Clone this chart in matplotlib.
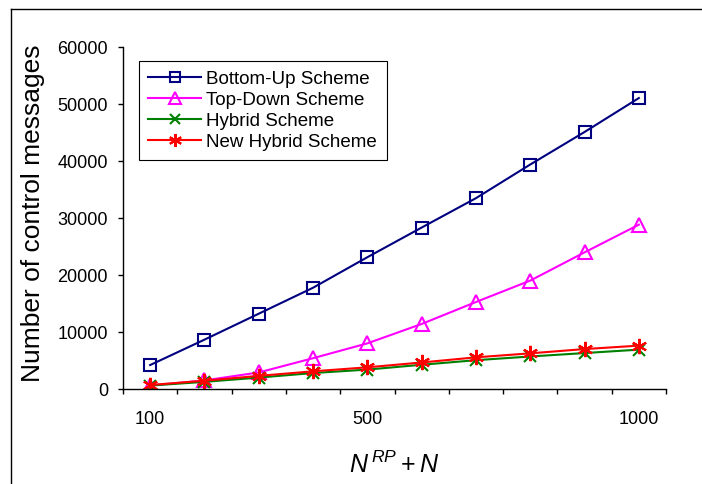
import matplotlib
matplotlib.use("Agg")
import matplotlib.pyplot as plt
from matplotlib.lines import Line2D

plt.rcParams['font.family'] = ['Liberation Sans', 'DejaVu Sans']
plt.rcParams['mathtext.fontset'] = 'custom'
plt.rcParams['mathtext.it'] = 'Liberation Sans:italic'
plt.rcParams['mathtext.rm'] = 'Liberation Sans'

# N^RP + N
nodes = [100, 200, 300, 400, 500, 600, 700, 800, 900, 1000]
tick_labels = ['100', '500', '1000']
tick_label_pos = [100, 500, 1000]

bottom_up = [4200, 8650, 13200, 17750, 23100, 28300, 33450, 39350, 45050, 51000]
top_down = [600, 1500, 2900, 5400, 8000, 11400, 15250, 19000, 23950, 28800]
hybrid = [600, 1250, 2000, 2800, 3400, 4250, 5050, 5700, 6300, 6900]
new_hybrid = [700, 1450, 2300, 3100, 3800, 4650, 5550, 6250, 7000, 7600]

W, H = 702, 485
fig = plt.figure(figsize=(W / 100, H / 100), dpi=100)
ax = fig.add_axes([123 / W, (H - 390) / H, (666 - 123) / W, (390 - 47.7) / H])

ax.plot(nodes, bottom_up, color='#000080', lw=1.5, marker='s', ms=9,
        mfc='none', mec='#000080', mew=1.5, label='Bottom-Up Scheme')
ax.plot(nodes, top_down, color='#ff00ff', lw=1.5, marker='^', ms=10,
        mfc='none', mec='#ff00ff', mew=1.5, label='Top-Down Scheme')
ax.plot(nodes, hybrid, color='#008000', lw=1.5, marker='x', ms=9,
        mec='#008000', mew=1.5, label='Hybrid Scheme')
ax.plot(nodes, new_hybrid, color='#ff0000', lw=1.5, marker=(6, 2, 0), ms=11,
        mec='#ff0000', mew=1.5, label='New Hybrid Scheme')

ax.set_xlim(50, 1050)
ax.set_ylim(0, 60000)
ax.set_yticks(range(0, 60001, 10000))
ax.set_xticks(range(50, 1051, 100))
ax.set_xticklabels([])
ax.set_xticks(tick_label_pos, minor=True)
ax.set_xticklabels(tick_labels, minor=True)
ax.tick_params(axis='x', which='major', direction='out', length=3.8, width=1)
ax.tick_params(axis='x', which='minor', length=0, pad=15, labelsize=13)
ax.tick_params(axis='y', direction='out', length=3.8, width=1, pad=7, labelsize=13)
for s in ['top', 'right']:
    ax.spines[s].set_visible(False)
for s in ['left', 'bottom']:
    ax.spines[s].set_linewidth(1)

leg = ax.legend(loc='upper left', bbox_to_anchor=(139 / W, 1 - 62 / H),
                bbox_transform=fig.transFigure, borderaxespad=0, fancybox=False,
                edgecolor='black', framealpha=1, fontsize=13.5, handlelength=2.8,
                labelspacing=0.2, handletextpad=0.3, borderpad=0.5,
                markerscale=0.85)
leg.get_frame().set_linewidth(0.8)

fig.text(33 / W, 1 - 213 / H, 'Number of control messages', rotation=90,
         ha='center', va='center', fontsize=19)
fig.text(394 / W, 1 - 465 / H, r'$N^{\,RP} + N$', ha='center', va='center',
         fontsize=18)

# outer chart-area border (left and top only visible)
fig.add_artist(Line2D([11 / W, 11 / W], [0, 1 - 10 / H], color='black', lw=1))
fig.add_artist(Line2D([11 / W, 1], [1 - 10 / H, 1 - 10 / H], color='black', lw=1))

fig.savefig('out.png', dpi=100)
